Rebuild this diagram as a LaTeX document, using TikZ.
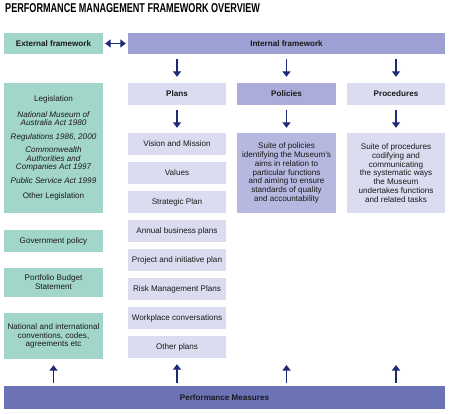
\documentclass[tikz,border=0pt]{standalone}
\usepackage{fontspec}
\usepackage{graphicx}
\setmainfont{Liberation Sans}
\usetikzlibrary{arrows.meta}
\definecolor{extc}{RGB}{163,214,202}
\definecolor{intc}{RGB}{157,160,210}
\definecolor{polh}{RGB}{170,172,217}
\definecolor{pold}{RGB}{182,184,223}
\definecolor{light}{RGB}{219,220,240}
\definecolor{perfc}{RGB}{107,115,182}
\definecolor{navy}{RGB}{28,42,120}
\definecolor{txt}{RGB}{25,25,25}
\begin{document}
\begin{tikzpicture}[x=1pt,y=-1pt,
  bx/.style={draw=none, inner sep=1pt, align=center, text=txt,
    font=\fontsize{8.1}{8.8}\selectfont},
  ext/.style={bx, fill=extc, minimum width=99pt},
  pl/.style={bx, fill=light, minimum width=98pt, minimum height=22pt},
  hd/.style={font=\fontsize{8.1}{8.8}\selectfont\bfseries},
  arr/.style={draw=navy, line width=1.5pt, -{Triangle[length=5.5pt,width=8pt]}},
  darr/.style={draw=navy, line width=1.5pt, {Triangle[length=5.5pt,width=8pt]}-{Triangle[length=5.5pt,width=8pt]}}]
\useasboundingbox (0,0) rectangle (450,414);

\node[anchor=base west, text=black, inner sep=0pt, font=\bfseries\fontsize{12.8}{12.8}\selectfont] (title) at (5,13)
  {\scalebox{0.71}[1]{PERFORMANCE MANAGEMENT FRAMEWORK OVERVIEW}};

% top bars
\node[ext, minimum height=21pt, hd] (extf) at (53.5,43.5) {External framework};
\node[bx, fill=intc, minimum width=317pt, minimum height=21pt, hd] (intf) at (286.5,43.5) {Internal framework};

% headers
\node[pl, hd] (plans) at (177,94) {Plans};
\node[bx, fill=polh, minimum width=99pt, minimum height=22pt, hd] (pol) at (286.5,94) {Policies};
\node[pl, hd] (proc) at (396,94) {Procedures};

% plans list
\node[pl] (p1) at (177,144) {Vision and Mission};
\node[pl] (p2) at (177,173) {Values};
\node[pl] (p3) at (177,202) {Strategic Plan};
\node[pl] (p4) at (177,231) {Annual business plans};
\node[pl] (p5) at (177,260) {Project and initiative plan};
\node[pl] (p6) at (177,289) {Risk Management Plans};
\node[pl] (p7) at (177,318) {Workplace conversations};
\node[pl] (p8) at (177,347) {Other plans};

% descriptions
\node[bx, fill=pold, minimum width=99pt, minimum height=80pt] (pold) at (286.5,173)
  {Suite of policies\\identifying the Museum's\\aims in relation to\\particular functions\\and aiming to ensure\\standards of quality\\and accountability};
\node[bx, fill=light, minimum width=98pt, minimum height=80pt] (procd) at (396,173)
  {Suite of procedures\\codifying and\\communicating\\the systematic ways\\the Museum\\undertakes functions\\and related tasks};

% left column
\node[ext, minimum height=130pt] (leg) at (53.5,148)
  {Legislation\\[6.8pt]
   \itshape National Museum of\\\itshape Australia Act 1980\\[4.5pt]
   \itshape Regulations 1986, 2000\\[4.3pt]
   \itshape Commonwealth\\\itshape Authorities and\\\itshape Companies Act 1997\\[4.3pt]
   \itshape Public Service Act 1999\\[6.8pt]
   Other Legislation};
\node[ext, minimum height=22pt] (gov) at (53.5,241) {Government policy};
\node[ext, minimum height=29pt] (pbs) at (53.5,282.5) {Portfolio Budget\\Statement};
\node[ext, minimum height=46pt] (nat) at (53.5,336) {National and international\\conventions, codes,\\agreements etc};

% bottom bar
\node[bx, fill=perfc, minimum width=441pt, minimum height=23pt, hd] (perf) at (224.5,397.5) {Performance Measures};

% free ends
\coordinate (polup) at (286.5,365);
\coordinate (procup) at (396,365);

% arrows
\draw[darr, shorten <=2pt, shorten >=2pt] (extf.east) -- (intf.west);
\draw[arr, shorten <=5pt, shorten >=6pt] (intf.south -| plans.north) -- (plans.north);
\draw[arr, shorten <=5pt, shorten >=6pt] (intf.south -| pol.north) -- (pol.north);
\draw[arr, shorten <=5pt, shorten >=6pt] (intf.south -| proc.north) -- (proc.north);
\draw[arr, shorten <=5pt, shorten >=5pt] (plans.south) -- (p1.north);
\draw[arr, shorten <=5pt, shorten >=5pt] (pol.south) -- (pold.north);
\draw[arr, shorten <=5pt, shorten >=5pt] (proc.south) -- (procd.north);
\draw[arr, shorten <=3pt, shorten >=6pt] (perf.north -| nat.south) -- (nat.south);
\draw[arr, shorten <=3pt, shorten >=6pt] (perf.north -| p8.south) -- (p8.south);
\draw[arr, shorten <=3pt] (perf.north -| polup) -- (polup);
\draw[arr, shorten <=3pt] (perf.north -| procup) -- (procup);
\end{tikzpicture}
\end{document}
